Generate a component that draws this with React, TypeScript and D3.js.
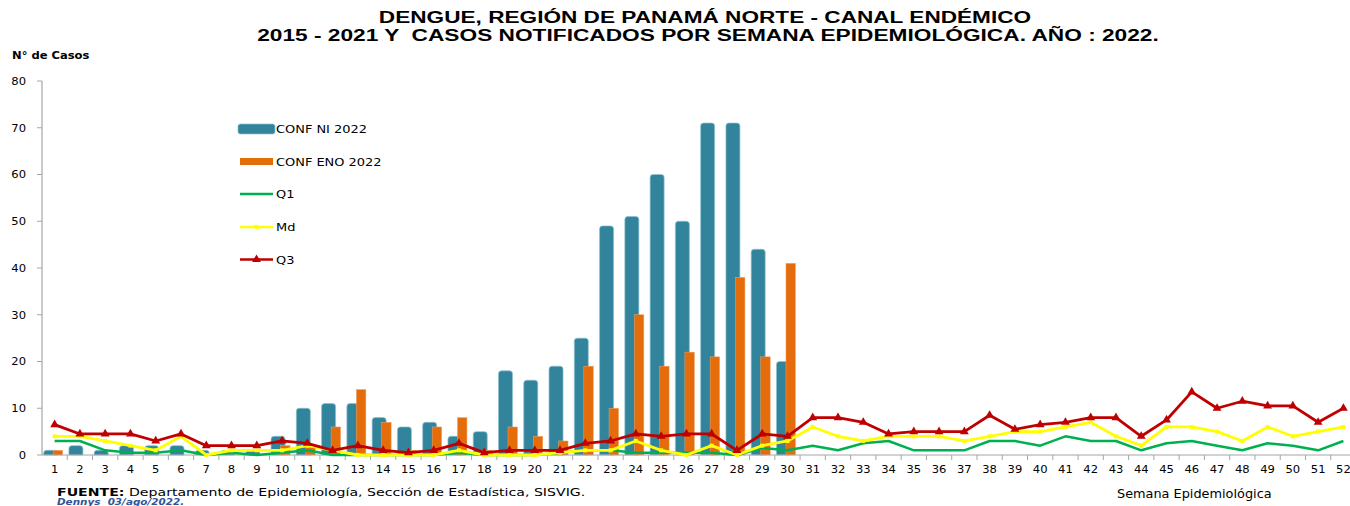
import * as d3 from 'd3'
import React from 'react'

// semanas epidemiológicas
const weeks = d3.range(1, 53)
const yTicks = [0, 10, 20, 30, 40, 50, 60, 70, 80]

// casos 2022 (semanas 1-30)
const confNI = [1, 2, 1, 2, 2, 2, 1, 1, 1, 4, 10, 11, 11, 8, 6, 7, 4, 5, 18, 16, 19, 25, 49, 51, 60, 50, 71, 71, 44, 20]
const confENO = [1, 0, 0, 0, 0, 0, 0, 0, 0, 2, 2, 6, 14, 7, 1, 6, 8, 1, 6, 4, 3, 19, 10, 30, 19, 22, 21, 38, 21, 41]

// canal endémico 2015 - 2021
const q1 = [3, 3, 1, 0.5, 0.5, 1, 0, 0.5, 0, 0.5, 1, 0, 0, 0, 0, 0, 0.5, 0, 0, 0, 0.5, 1, 1, 0.5, 0.5, 0.5, 0.5, 0, 1.5, 1,
  2, 1, 2.5, 3, 1, 1, 1, 3, 3, 2, 4, 3, 3, 1, 2.5, 3, 2, 1, 2.5, 2, 1, 3]
const md = [4, 4, 3, 2, 1, 4, 0, 1, 1, 1, 2, 1, 0, 0, 0, 0, 1, 0, 0, 0, 0.5, 1, 1, 3, 1, 0, 2, 0, 2, 3,
  6, 4, 3, 4, 4, 4, 3, 4, 5, 5, 6, 7, 4, 2, 6, 6, 5, 3, 6, 4, 5, 6]
const q3 = [6.5, 4.5, 4.5, 4.5, 3, 4.5, 2, 2, 2, 3, 2.5, 1, 2, 1, 0.5, 1, 2.5, 0.5, 1, 1, 1, 2.5, 3, 4.5, 4, 4.5, 4.5, 1, 4.5, 4,
  8, 8, 7, 4.5, 5, 5, 5, 8.5, 5.5, 6.5, 7, 8, 8, 4, 7.5, 13.5, 10, 11.5, 10.5, 10.5, 7, 10]

const TEAL = '#31849B', ORANGE = '#E46C0A', GREEN = '#00B050', YELLOW = '#FFFF00', RED = '#C00000'
const FONT = 'DejaVu Sans', TITLE_FONT = 'Liberation Sans'

const T = ({ x, y, sx = 1, anchor = 'start', size, weight = 'normal', family = FONT, fill = '#000', italic = false, children }: any) =>
  <text transform={`translate(${x},${y}) scale(${sx},1)`} textAnchor={anchor} fontSize={size} fontWeight={weight}
    fontFamily={family} fill={fill} fontStyle={italic ? 'italic' : 'normal'} style={{ whiteSpace: 'pre' }}>{children}</text>

const topRounded = (x: number, y: number, w: number, h: number, r: number) => {
  const rr = Math.min(r, h, w / 2)
  return `M${x},${y + h}V${y + rr}Q${x},${y} ${x + rr},${y}H${x + w - rr}Q${x + w},${y} ${x + w},${y + rr}V${y + h}Z`
}

export default function App() {
  const
    width = 1350, height = 506,
    x = d3.scaleBand<number>().domain(weeks).range([42, 42 + 52 * 25.27]),
    y = d3.scaleLinear().domain([0, 80]).range([455, 81]),
    cx = (w: number) => x(w)! + x.bandwidth() / 2,
    line = d3.line<number>().x((_, i) => cx(weeks[i])).y(d => y(d)),
    tri = d3.symbol(d3.symbolTriangle, 34)(),
    legendY = [129, 161.5, 194, 227, 259.5]

  return (
    <svg width={width} height={height} style={{ position: 'absolute', left: 0, top: 0, background: '#fff' }}>
      <T x={705} y={23} anchor='middle' size={17} weight='bold' family={TITLE_FONT} sx={1.33}>DENGUE, REGIÓN DE PANAMÁ NORTE - CANAL ENDÉMICO</T>
      <T x={708} y={41} anchor='middle' size={17} weight='bold' family={TITLE_FONT} sx={1.335}>2015 - 2021 Y  CASOS NOTIFICADOS POR SEMANA EPIDEMIOLÓGICA. AÑO : 2022.</T>
      <T x={12} y={59} size={10.5} weight='bold' sx={1.1}>N° de Casos</T>

      {/* eje Y */}
      <line x1={42} x2={42} y1={y(80)} y2={y(0)} stroke='#A6A6A6' strokeWidth={1.2} />
      {yTicks.map(t => (
        <g key={t}>
          <line x1={37} x2={42} y1={y(t)} y2={y(t)} stroke='#A6A6A6' />
          <T x={26} y={y(t) + 3.8} anchor='end' size={10.5} sx={1.1}>{t}</T>
        </g>
      ))}

      {/* barras */}
      {confNI.map((v, i) => {
        const c = cx(weeks[i]), y0 = y(v)
        return <path key={'ni' + i} d={topRounded(c - 11, y0, 14, y(0) - y0, 3)} fill={TEAL} stroke='#8FC0CE' strokeWidth={0.7} />
      })}
      {confENO.map((v, i) => {
        if (!v) return null
        const c = cx(weeks[i]), y0 = y(v)
        return <rect key={'eno' + i} x={c - 1.5} y={y0} width={9.5} height={y(0) - y0} fill={ORANGE} stroke='#F2A36A' strokeWidth={0.5} />
      })}

      {/* eje X */}
      <line x1={42} x2={width} y1={y(0)} y2={y(0)} stroke='#A6A6A6' strokeWidth={1.2} />
      {weeks.map(w => (
        <g key={w}>
          <line x1={x(w)! + x.bandwidth()} x2={x(w)! + x.bandwidth()} y1={y(0)} y2={y(0) + 5} stroke='#A6A6A6' />
          <T x={cx(w)} y={472.5} anchor='middle' size={10.5} sx={1.1}>{w}</T>
        </g>
      ))}

      {/* canal endémico */}
      <path d={line(q1)!} fill='none' stroke={GREEN} strokeWidth={2.5} strokeLinejoin='round' />
      <path d={line(md)!} fill='none' stroke={YELLOW} strokeWidth={2.8} strokeLinejoin='round' />
      {md.map((v, i) => <rect key={'md' + i} x={cx(weeks[i]) - 2} y={y(v) - 2} width={4} height={4} fill={YELLOW} />)}
      <path d={line(q3)!} fill='none' stroke={RED} strokeWidth={2.8} strokeLinejoin='round' />
      {q3.map((v, i) => <path key={'q3' + i} d={tri!} transform={`translate(${cx(weeks[i])},${y(v)})`} fill={RED} />)}

      {/* leyenda */}
      <rect x={238} y={legendY[0] - 5} width={37} height={10} rx={2.5} fill={TEAL} stroke='#8FC0CE' strokeWidth={0.7} />
      <rect x={240} y={legendY[1] - 3.5} width={33} height={7} fill={ORANGE} />
      <line x1={240} x2={273} y1={legendY[2]} y2={legendY[2]} stroke={GREEN} strokeWidth={2.5} />
      <line x1={240} x2={273} y1={legendY[3]} y2={legendY[3]} stroke={YELLOW} strokeWidth={2.5} />
      <rect x={254.5} y={legendY[3] - 2} width={4} height={4} fill={YELLOW} />
      <line x1={240} x2={273} y1={legendY[4]} y2={legendY[4]} stroke={RED} strokeWidth={2.5} />
      <path d={tri!} transform={`translate(256.5,${legendY[4]})`} fill={RED} />
      {['CONF NI 2022', 'CONF ENO 2022', 'Q1', 'Md', 'Q3'].map((s, i) => (
        <T key={s} x={276} y={legendY[i] + 4} size={10.8} sx={1.2}>{s}</T>
      ))}

      <T x={1117} y={498} size={11.5} sx={1.12}>Semana Epidemiológica</T>
      <text transform='translate(57,496) scale(1.25,1)' fontFamily={FONT} fontSize={11.3} fill='#000' style={{ whiteSpace: 'pre' }}>
        <tspan fontWeight='bold'>FUENTE:</tspan> Departamento de Epidemiología, Sección de Estadística, SISVIG.
      </text>
      <T x={57} y={504.5} size={8} weight='bold' italic sx={1.3} fill='#2F5597'>Dennys  03/ago/2022.</T>
    </svg>
  )
}
